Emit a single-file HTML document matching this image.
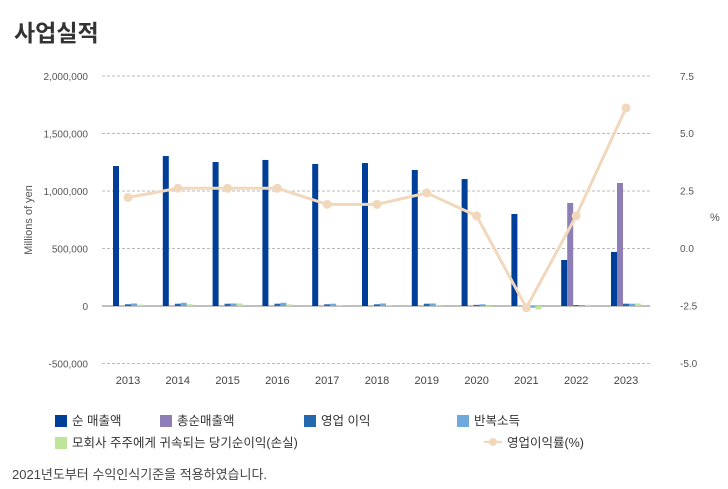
<!DOCTYPE html>
<html><head><meta charset="utf-8"><style>
body{margin:0;width:728px;height:489px;background:#fff;font-family:"Liberation Sans","Noto Sans CJK KR",sans-serif;overflow:hidden;position:relative}
.t{position:absolute}
</style></head><body>
<div class="t" style="left:14px;top:14px;font-size:23px;font-weight:bold;color:#333">사업실적</div>
<svg id="c" width="728" height="400" style="position:absolute;left:0;top:0" font-family="Liberation Sans, Noto Sans CJK KR, sans-serif"></svg>
<div class="t" style="left:12px;top:464px;font-size:13px;color:#444">2021년도부터 수익인식기준을 적용하였습니다.</div>
<div>
<div class="t" style="left:55px;top:410px;font-size:12.5px;color:#333"><span style="display:inline-block;width:12px;height:12px;background:#003f98;vertical-align:-2px;margin-right:5px"></span>순 매출액</div>
<div class="t" style="left:160px;top:410px;font-size:12.5px;color:#333"><span style="display:inline-block;width:12px;height:12px;background:#8d7fb5;vertical-align:-2px;margin-right:5px"></span>총순매출액</div>
<div class="t" style="left:304px;top:410px;font-size:12.5px;color:#333"><span style="display:inline-block;width:12px;height:12px;background:#2469b0;vertical-align:-2px;margin-right:5px"></span>영업 이익</div>
<div class="t" style="left:457px;top:410px;font-size:12.5px;color:#333"><span style="display:inline-block;width:12px;height:12px;background:#6fa8dc;vertical-align:-2px;margin-right:5px"></span>반복소득</div>
<div class="t" style="left:55px;top:432px;font-size:12.5px;color:#333"><span style="display:inline-block;width:12px;height:12px;background:#bfe59a;vertical-align:-2px;margin-right:5px"></span>모회사 주주에게 귀속되는 당기순이익(손실)</div>
<div class="t" style="left:484px;top:432px;font-size:12.5px;color:#333"><span style="display:inline-block;width:18px;height:2px;background:#f1d8bd;vertical-align:4px;margin-right:5px;position:relative"><span style="position:absolute;left:5px;top:-3px;width:8px;height:8px;border-radius:50%;background:#f1d8bd"></span></span>영업이익률(%)</div>
</div>
<script>
const years=["2013","2014","2015","2016","2017","2018","2019","2020","2021","2022","2023"];
const netSales=[1217000,1304000,1252000,1270000,1235000,1243000,1183000,1104000,800000,400000,470000];
const grossSales=[0,0,0,0,0,0,0,0,0,896000,1070000];
const opIncome=[15000,20000,20000,20000,15000,15000,20000,10000,-5000,8000,20000];
const recurring=[22000,28000,22000,28000,20000,22000,22000,15000,-15000,8000,20000];
const netIncome=[12000,15000,22000,14000,8000,5000,10000,-8000,-30000,10000,22000];
const margin=[2.2,2.6,2.6,2.6,1.9,1.9,2.4,1.4,-2.6,1.4,6.1];
const leftTicks=["2,000,000","1,500,000","1,000,000","500,000","0","-500,000"];
const leftVals=[2000000,1500000,1000000,500000,0,-500000];
const rightTicks=["7.5","5.0","2.5","0.0","-2.5","-5.0"];
const rightVals=[7.5,5,2.5,0,-2.5,-5];
const svg=document.getElementById('c');const NS="http://www.w3.org/2000/svg";
function mk(t,a,txt){const e=document.createElementNS(NS,t);for(const k in a)e.setAttribute(k,a[k]);if(txt!==undefined)e.textContent=txt;svg.appendChild(e);return e;}
const yL=v=>306-v/500000*57.5;
const yR=v=>248-v/2.5*57.4;
const xC=i=>128+i*49.8;
leftVals.forEach((v,i)=>{
 const g=mk('line',{x1:102,x2:650,y1:yL(v),y2:yL(v),stroke:v===0?'#aaa':'#bbb','stroke-width':v===0?1.5:1,'stroke-dasharray':v===0?'':'3,2'});
 
 const t=mk('text',{x:88,y:yL(v)+4,'text-anchor':'end','font-size':10,fill:'#555'},leftTicks[i]);
 
});
rightVals.forEach((v,i)=>{
 const t=mk('text',{x:680,y:yR(v)+4,'text-anchor':'start','font-size':10,fill:'#555'},rightTicks[i]);
 
});
let t1=mk('text',{x:0,y:0,'font-size':11,fill:'#555','text-anchor':'middle',transform:'translate(32,220) rotate(-90)'},'Millions of yen');

let t2=mk('text',{x:710,y:221,'font-size':11,fill:'#555'},'%');

const series=[[netSales,'#003f98','bar-net-sales'],[grossSales,'#8d7fb5','bar-gross-sales'],[opIncome,'#2469b0','bar-operating-income'],[recurring,'#6fa8dc','bar-recurring-income'],[netIncome,'#bfe59a','bar-net-income']];
years.forEach((y,i)=>{
 series.forEach((s,j)=>{
  const v=s[0][i];if(!v)return;
  const y0=yL(0),y1=yL(v);
  const r=mk('rect',{x:xC(i)-15+j*6,y:Math.min(y0,y1),width:6,height:Math.abs(y1-y0),fill:s[1]});
  
 });
 const t=mk('text',{x:xC(i),y:384,'text-anchor':'middle','font-size':11,fill:'#444'},y);
 
});
const pl=mk('polyline',{points:margin.map((v,i)=>xC(i)+','+yR(v)).join(' '),fill:'none',stroke:'#f1d8bd','stroke-width':3});

margin.forEach((v,i)=>{
 const c=mk('circle',{cx:xC(i),cy:yR(v),r:4.5,fill:'#f1d8bd'});
 
});
</script>
</body></html>
